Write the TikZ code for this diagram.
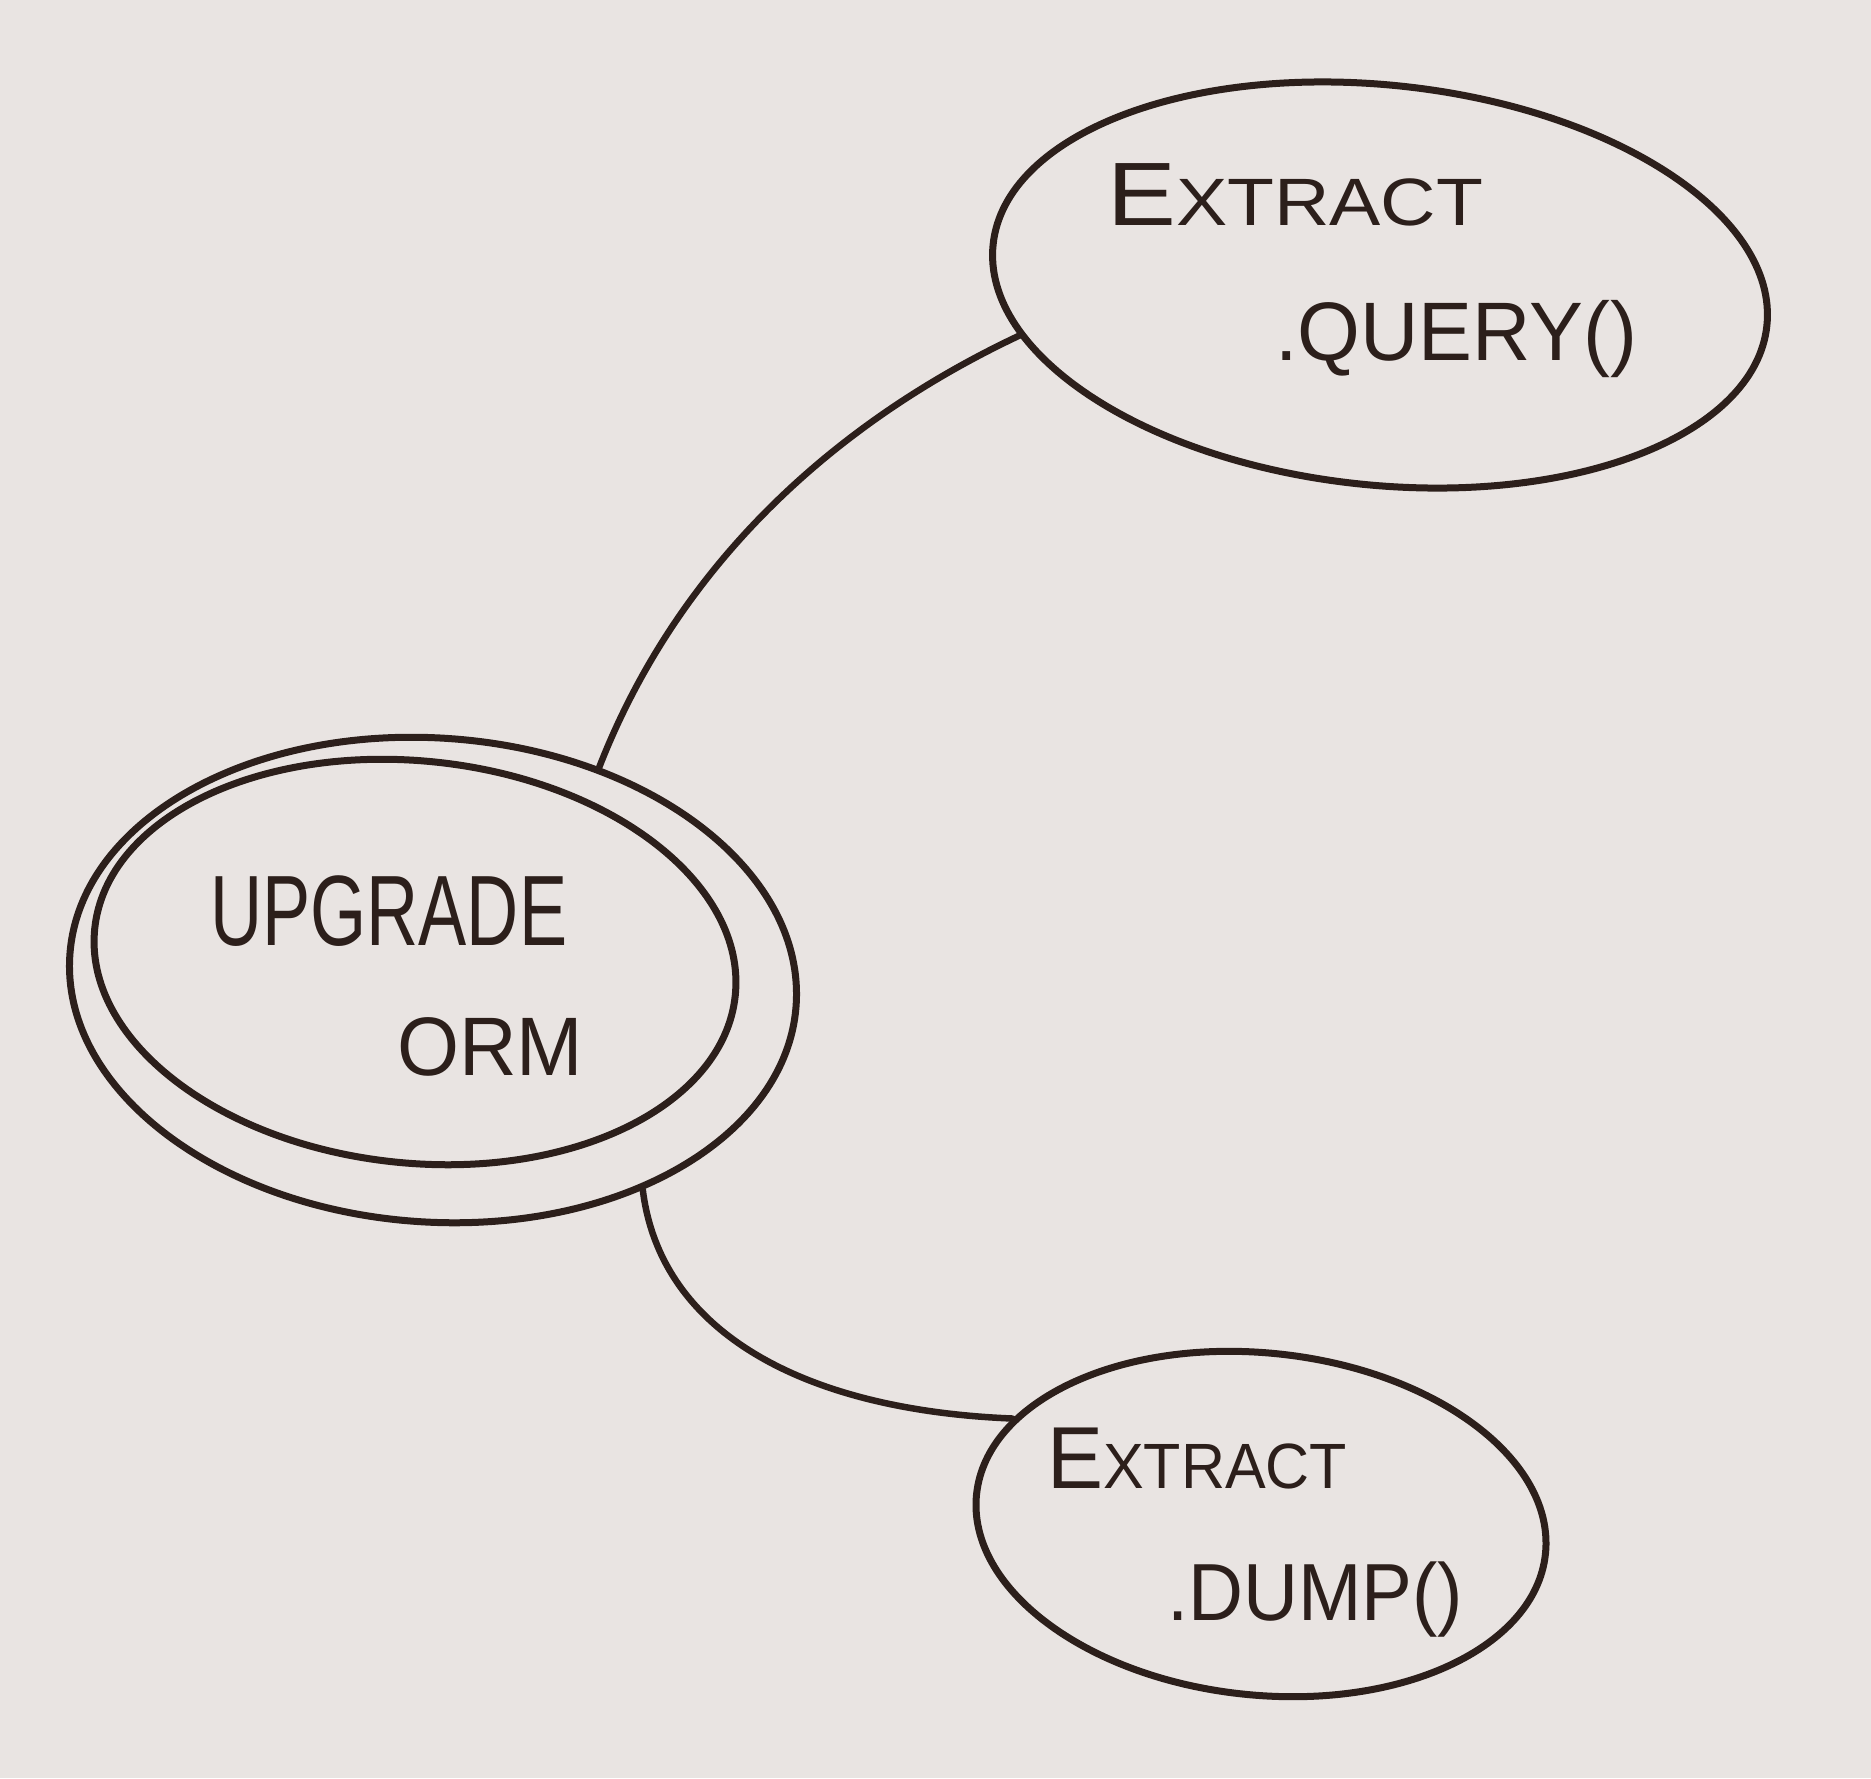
\documentclass[tikz,border=0pt]{standalone}
\usepackage{fontspec}
\setmainfont{Liberation Sans}
\usetikzlibrary{shapes.geometric}
\definecolor{paper}{RGB}{233,228,226}
\definecolor{ink}{RGB}{44,31,27}
\tikzset{
  bubble/.style={ellipse, draw=ink, line width=7pt, inner sep=0pt},
  link/.style={draw=ink, line width=6.5pt, line cap=round},
  hand/.style={text=ink, inner sep=0pt, anchor=base west}
}
\newcommand{\fitto}[2]{\resizebox{#1}{\height}{#2}}
\newcommand{\fs}[1]{\fontsize{#1}{#1}\selectfont}
\begin{document}
\begin{tikzpicture}[x=1pt,y=-1pt]
\fill[paper] (0,0) rectangle (1871,1778);
\useasboundingbox (0,0) rectangle (1871,1778);

% nodes
\node[bubble, rotate=-6, minimum width=778pt, minimum height=400pt] (top) at (1380,285) {};
\node[bubble, rotate=-4, minimum width=728pt, minimum height=484pt] (upgO) at (433,980) {};
\node[bubble, rotate=-6, minimum width=644pt, minimum height=402pt] (upgI) at (415,962) {};
\node[bubble, rotate=-6, minimum width=572pt, minimum height=342pt] (bot) at (1261,1524) {};

% texts
\node[hand] (t1) at (1107,225) {\fitto{376pt}{{\fs{90}E}\fs{67}XTRACT}};
\node[hand] (t2) at (1275,360) {\fitto{362pt}{\fs{83}.QUERY()}};
\node[hand] (u1) at (210,945) {\fitto{357pt}{\fs{100}UPGRADE}};
\node[hand] (u2) at (397,1075) {\fitto{186pt}{\fs{83}ORM}};
\node[hand] (b1) at (1047,1488) {\fitto{300pt}{{\fs{88}E}\fs{64}XTRACT}};
\node[hand] (b2) at (1167,1620) {\fitto{296pt}{\fs{81}.DUMP()}};

% connectors
\draw[link] (top.194) .. controls (840,420) and (680,560) .. (upgO.56);
\draw[link] (upgO.-41) .. controls (660,1330) and (800,1410) .. (bot.163);
\end{tikzpicture}
\end{document}
